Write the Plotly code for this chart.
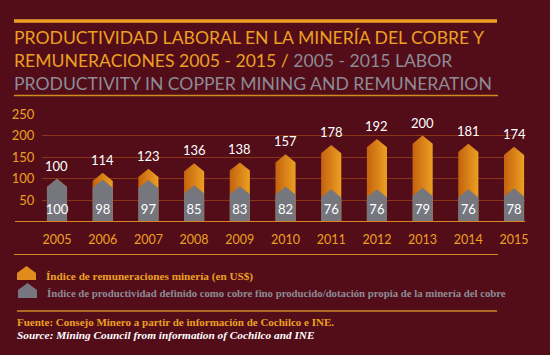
import plotly.graph_objects as go

# ---------------- data ----------------
years = ["2005", "2006", "2007", "2008", "2009", "2010", "2011", "2012", "2013", "2014", "2015"]
remuneraciones = [100, 114, 123, 136, 138, 157, 178, 192, 200, 181, 174]
productividad = [100, 98, 97, 85, 83, 82, 76, 76, 79, 76, 78]
y_ticks = [50, 100, 150, 200, 250]

title_l1 = "PRODUCTIVIDAD LABORAL EN LA MINERÍA DEL COBRE Y"
title_l2a = "REMUNERACIONES 2005 - 2015 / "
title_l2b = "2005 - 2015 LABOR"
title_l3 = "PRODUCTIVITY IN COPPER MINING AND REMUNERATION"
legend_1 = "Índice de remuneraciones minería (en US$)"
legend_2 = "Índice de productividad definido como cobre fino producido/dotación propia de la minería del cobre"
source_es = "Fuente: Consejo Minero a partir de información de Cochilco e INE."
source_en = "Source: Mining Council from information of Cochilco and INE"

# ---------------- style ----------------
W, H = 550, 355
L, R, T, B = 42, 25, 113, 133
PW, PH = W - L - R, H - T - B
BG = "#520d19"
ORANGE = "#eca022"
ORANGE_D = "#c4620f"
GREY = "#76767e"
GREY_T = "#8e8b96"
GRID = "#8a3418"
BAR_W = 0.44
CAP = 19
Y_MAX = PH / 0.432
TITLE_FONT = "Lato"
SERIF = "Liberation Serif"


def px_x(px):
    return (px - L) / PW


def px_y(py):
    return (H - B - py) / PH


def house(i, v):
    xs = [i - BAR_W / 2, i - BAR_W / 2, i, i + BAR_W / 2, i + BAR_W / 2, i - BAR_W / 2]
    ys = [0, v - CAP, v, v - CAP, 0, 0]
    return xs, ys


fig = go.Figure()

for i, v in enumerate(remuneraciones):
    xs, ys = house(i, v)
    fig.add_trace(go.Scatter(
        x=xs, y=ys, mode="lines", fill="toself", line=dict(width=0),
        fillgradient=dict(type="horizontal", colorscale=[[0, ORANGE_D], [1, ORANGE]]),
        hoverinfo="skip", showlegend=False))

for i, v in enumerate(productividad):
    xs, ys = house(i, v)
    fig.add_trace(go.Scatter(
        x=xs, y=ys, mode="lines", fill="toself", line=dict(width=0),
        fillcolor=GREY, hoverinfo="skip", showlegend=False))

xs_idx = list(range(len(years)))
fig.add_trace(go.Scatter(
    x=xs_idx, y=[25] * len(years), mode="text", text=[str(v) for v in productividad],
    textposition="middle center", textfont=dict(family="Lato", size=13, color="white"),
    hoverinfo="skip", showlegend=False, cliponaxis=False))

annotations = []
for i, v in enumerate(remuneraciones):
    annotations.append(dict(x=i, y=v, xref="x", yref="y", text=str(v), showarrow=False,
                            yanchor="bottom", yshift=3,
                            font=dict(family="Lato", size=13, color="white")))

shapes = []
# baseline
shapes.append(dict(type="line", xref="paper", yref="y", x0=px_x(15), x1=px_x(525), y0=0, y1=0,
                   line=dict(color="#d8861e", width=2), layer="above"))
# decorative rules
shapes.append(dict(type="line", xref="paper", yref="paper", x0=px_x(14), x1=px_x(497),
                   y0=px_y(21), y1=px_y(21), line=dict(color=ORANGE, width=3.5)))
shapes.append(dict(type="line", xref="paper", yref="paper", x0=px_x(14), x1=px_x(498),
                   y0=px_y(95.5), y1=px_y(95.5), line=dict(color="#d08a22", width=1.5)))
shapes.append(dict(type="line", xref="paper", yref="paper", x0=px_x(14), x1=px_x(498),
                   y0=px_y(254.5), y1=px_y(254.5), line=dict(color="#d08a22", width=1.2)))
shapes.append(dict(type="line", xref="paper", yref="paper", x0=px_x(17), x1=px_x(497),
                   y0=px_y(311), y1=px_y(311), line=dict(color="#d08a22", width=1.5)))


def icon_path(x0, x1, ytip, yshoulder, ybot):
    xm = (x0 + x1) / 2
    pts = [(x0, ybot), (x0, yshoulder), (xm, ytip), (x1, yshoulder), (x1, ybot)]
    return "M " + " L ".join(f"{px_x(a):.5f},{px_y(b):.5f}" for a, b in pts) + " Z"


shapes.append(dict(type="path", xref="paper", yref="paper",
                   path=icon_path(17, 36, 266, 273, 280), fillcolor="#e08c1c", line=dict(width=0)))
shapes.append(dict(type="path", xref="paper", yref="paper",
                   path=icon_path(18, 37, 283, 290, 298), fillcolor=GREY, line=dict(width=0)))


def txt(text, x, y, size, color, family, **kw):
    annotations.append(dict(text=text, xref="paper", yref="paper", x=px_x(x), y=px_y(y),
                            xanchor="left", yanchor="middle", showarrow=False, align="left",
                            font=dict(size=size, color=color, family=family), **kw))


title_html = (f"{title_l1}<br>{title_l2a}<span style='color:{GREY_T}'>{title_l2b}</span><br>"
              f"<span style='color:{GREY_T}'>{title_l3}</span>")
txt(title_html, 12, 60, 17.6, ORANGE, TITLE_FONT)
txt(f"<b>{legend_1}</b>", 44, 276, 11.2, ORANGE, SERIF)
txt(f"<b>{legend_2}</b>", 45, 293, 10.75, GREY_T, SERIF)
txt(f"<b>{source_es}</b>", 15, 322, 11, ORANGE, SERIF)
txt(f"<b><i>{source_en}</i></b>", 15, 335, 11.3, "white", SERIF)

fig.update_layout(
    width=W, height=H, margin=dict(l=L, r=R, t=T, b=B),
    paper_bgcolor=BG, plot_bgcolor=BG, showlegend=False, hovermode=False,
    shapes=shapes, annotations=annotations,
    xaxis=dict(range=[-0.328, 10.24], tickvals=xs_idx, ticktext=years, showgrid=False,
               zeroline=False, showline=False, ticks="outside", ticklen=6, tickcolor="rgba(0,0,0,0)",
               tickfont=dict(family="Lato", size=12.5, color=ORANGE), fixedrange=True),
    yaxis=dict(range=[0, Y_MAX], tickvals=y_ticks, showgrid=True, gridcolor=GRID, gridwidth=1,
               zeroline=False, showline=False, ticks="outside", ticklen=4, tickcolor="rgba(0,0,0,0)",
               tickfont=dict(family="Lato", size=13, color=ORANGE), fixedrange=True),
)

fig.write_html(
    "out.html",
    config={"displayModeBar": False, "staticPlot": True},
    post_script=f"document.body.style.margin='0';document.body.style.background='{BG}';",
)
